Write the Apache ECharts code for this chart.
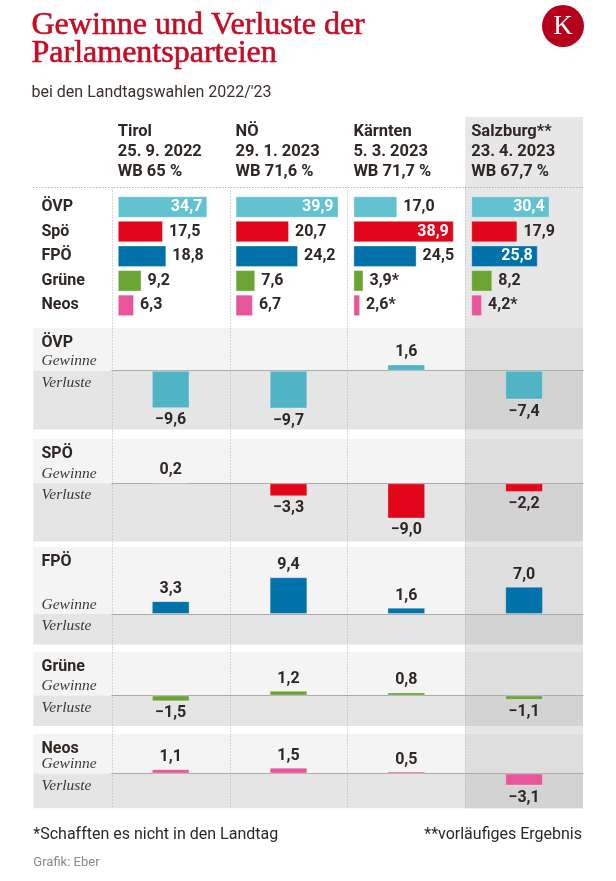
<!DOCTYPE html>
<html><head><meta charset="utf-8">
<script src="https://cdn.jsdelivr.net/npm/echarts@6/dist/echarts.min.js"></script>
<style>html,body{margin:0;padding:0;background:#fff}#c{width:616px;height:881px}</style>
</head><body><div id="c"></div>
<script>
// ---------- data ----------
const regions = ['Tirol', 'NÖ', 'Kärnten', 'Salzburg'];
const regionTitles = ['Tirol', 'NÖ', 'Kärnten', 'Salzburg**'];
const dates = ['25. 9. 2022', '29. 1. 2023', '5. 3. 2023', '23. 4. 2023'];
const turnout = ['WB 65 %', 'WB 71,6 %', 'WB 71,7 %', 'WB 67,7 %'];
const parties = ['ÖVP', 'Spö', 'FPÖ', 'Grüne', 'Neos'];
const panelParties = ['ÖVP', 'SPÖ', 'FPÖ', 'Grüne', 'Neos'];
// results (ÖVP, SPÖ, FPÖ, Grüne, Neos)
const resultTirol = [34.7, 17.5, 18.8, 9.2, 6.3];
const resultNOe = [39.9, 20.7, 24.2, 7.6, 6.7];
const resultKaernten = [17.0, 38.9, 24.5, 3.9, 2.6];
const resultSalzburg = [30.4, 17.9, 25.8, 8.2, 4.2];
const notInParliament = [[], [], ['Grüne', 'Neos'], ['Neos']];
// gains / losses (Tirol, NÖ, Kärnten, Salzburg)
const changeOeVP = [-9.6, -9.7, 1.6, -7.4];
const changeSPOe = [0.2, -3.3, -9.0, -2.2];
const changeFPOe = [3.3, 9.4, 1.6, 7.0];
const changeGruene = [-1.5, 1.2, 0.8, -1.1];
const changeNeos = [1.1, 1.5, 0.5, -3.1];

// ---------- style / layout ----------
const topColors = ['#63c2d0', '#e2061a', '#0071a9', '#6aa533', '#e9559a'];
const panelColors = ['#50b4c4', '#e2061a', '#0071a9', '#6aa533', '#e9559a'];
const DARK = '#2f2723';
const FONT = 'Roboto, "Noto Sans", sans-serif';
const SERIF = '"Liberation Serif", "DejaVu Serif", serif';
const COL0 = 111.8, COLW = 117.8, PANEL_L = 33.3, PANEL_R = COL0 + 4 * COLW;
const TOPG = { top: 194.7, height: 123, inset: 6, width: 103.2, max: 40 };
const PX_PER_POINT = 3.9;
const panelLayout = [
  { top: 328, base: 370.7, bottom: 429.5 },
  { top: 439, base: 483.3, bottom: 541.5 },
  { top: 546.7, base: 614, bottom: 644.5 },
  { top: 651.7, base: 695.5, bottom: 726 },
  { top: 734, base: 773.5, bottom: 808.3 }
];

const results = [resultTirol, resultNOe, resultKaernten, resultSalzburg];
const changes = [changeOeVP, changeSPOe, changeFPOe, changeGruene, changeNeos];
const fmt = v => (v < 0 ? '−' : '') + Math.abs(v).toFixed(1).replace('.', ',');

const grid = [], xAxis = [], yAxis = [], series = [];

regions.forEach((r, ri) => {
  grid.push({ left: COL0 + ri * COLW + TOPG.inset, top: TOPG.top, width: TOPG.width, height: TOPG.height });
  xAxis.push({ gridIndex: ri, type: 'value', min: 0, max: TOPG.max, show: false });
  yAxis.push({
    gridIndex: ri, type: 'category', data: parties, inverse: true, show: ri === 0,
    axisLine: { show: false }, axisTick: { show: false }, splitLine: { show: false },
    axisLabel: { show: ri === 0, align: 'left', margin: COL0 + TOPG.inset - 41.5, color: DARK, fontFamily: FONT, fontWeight: 'bold', fontSize: 16 }
  });
  series.push({
    type: 'bar', xAxisIndex: ri, yAxisIndex: ri, barWidth: 21.5, animation: false,
    data: results[ri].map((v, pi) => {
      const inside = v >= 25;
      return {
        value: v, star: notInParliament[ri].includes(parties[pi]),
        itemStyle: { color: topColors[pi], borderColor: 'rgba(255,255,255,0.35)', borderWidth: 1 },
        label: { position: inside ? 'insideRight' : 'right', distance: inside ? 5 : 6, color: inside ? '#fff' : DARK }
      };
    }),
    label: { show: true, fontFamily: FONT, fontWeight: 'bold', fontSize: 16,
      formatter: p => fmt(p.value) + (p.data.star ? '*' : '') }
  });
});

panelParties.forEach((p, pi) => {
  const L = panelLayout[pi], gi = 4 + pi;
  grid.push({ left: COL0, top: L.top, width: 4 * COLW, height: L.bottom - L.top });
  xAxis.push({ gridIndex: gi, type: 'category', data: regions, z: 1,
    axisLine: { show: true, onZero: true, lineStyle: { color: '#ababab', width: 1 } },
    axisTick: { show: false }, axisLabel: { show: false }, splitLine: { show: false } });
  yAxis.push({ gridIndex: gi, type: 'value', show: false,
    min: -(L.bottom - L.base) / PX_PER_POINT, max: (L.base - L.top) / PX_PER_POINT });
  series.push({
    type: 'bar', xAxisIndex: gi, yAxisIndex: gi, barWidth: 37.7, barMinHeight: 1, animation: false,
    itemStyle: { color: panelColors[pi], borderColor: 'rgba(255,255,255,0.3)', borderWidth: 1 },
    data: changes[pi].map(v => ({ value: v, label: { position: v >= 0 ? 'top' : 'bottom' } })),
    label: { show: true, distance: 4, formatter: q => fmt(q.value), color: DARK, fontFamily: FONT, fontWeight: 'bold', fontSize: 16 }
  });
});

const chart = echarts.init(document.getElementById('c'));
chart.setOption({ animation: false, backgroundColor: '#fff', grid, xAxis, yAxis, series });

// ---------- decoration ----------
const gfx = [];
const txt = (x, y, text, o) => gfx.push({ type: 'text', x, y, z: 5, silent: true,
  style: Object.assign({ text, fill: DARK, font: 'bold 16px ' + FONT, verticalAlign: 'middle', align: 'left' }, o || {}) });

gfx.push({ type: 'rect', z: 0, silent: true, shape: { x: COL0 + 3 * COLW, y: 117, width: COLW, height: panelLayout[4].bottom - 117 }, style: { fill: '#e7e7e7' } });

panelLayout.forEach((L, pi) => {
  const base = chart.convertToPixel({ yAxisIndex: 4 + pi }, 0);
  const top = chart.convertToPixel({ yAxisIndex: 4 + pi }, yAxis[4 + pi].max);
  const bottom = chart.convertToPixel({ yAxisIndex: 4 + pi }, yAxis[4 + pi].min);
  const sx = chart.convertToPixel({ xAxisIndex: 4 + pi }, regions[3]) - COLW / 2;
  gfx.push({ type: 'rect', z: 0, silent: true, shape: { x: PANEL_L, y: top, width: PANEL_R - PANEL_L, height: base - top }, style: { fill: '#f4f4f4' } });
  gfx.push({ type: 'rect', z: 0, silent: true, shape: { x: PANEL_L, y: base, width: PANEL_R - PANEL_L, height: bottom - base }, style: { fill: '#e5e5e5' } });
  gfx.push({ type: 'rect', z: 0, silent: true, shape: { x: sx, y: top, width: COLW, height: base - top }, style: { fill: '#dedede' } });
  gfx.push({ type: 'rect', z: 0, silent: true, shape: { x: sx, y: base, width: COLW, height: bottom - base }, style: { fill: '#d3d3d3' } });
  txt(41.5, top + 15, panelParties[pi]);
  txt(41.5, base - 9.5, 'Gewinne', { font: 'italic 15.5px ' + SERIF, fill: '#3d3835' });
  txt(41.5, base + 12, 'Verluste', { font: 'italic 15.5px ' + SERIF, fill: '#3d3835' });
});

// dotted lines
gfx.push({ type: 'line', z: 1, silent: true, shape: { x1: PANEL_L, y1: 187.5, x2: PANEL_R, y2: 187.5 }, style: { stroke: '#9a9a9a', lineWidth: 1, lineDash: [1, 2] } });
for (let i = 0; i < 4; i++) {
  const x = Math.round(COL0 + i * COLW) + 0.5;
  gfx.push({ type: 'line', z: 1, silent: true, shape: { x1: x, y1: 187.5, x2: x, y2: panelLayout[4].bottom }, style: { stroke: '#b3b3b3', lineWidth: 1, lineDash: [1, 2] } });
}

// headers
regions.forEach((r, ri) => {
  const x = COL0 + ri * COLW + TOPG.inset;
  txt(x, 132, regionTitles[ri], { font: 'bold 16.5px ' + FONT });
  txt(x, 152, dates[ri], { font: 'bold 16.5px ' + FONT });
  txt(x, 172, turnout[ri], { font: 'bold 16.5px ' + FONT });
});

// title
const titleStyle = { font: '32px ' + SERIF, fill: '#c40c24', stroke: '#c40c24', lineWidth: 0.6 };
txt(31.5, 26, 'Gewinne und Verluste der', titleStyle);
txt(31.5, 54, 'Parlamentsparteien', titleStyle);
txt(31.5, 93, "bei den Landtagswahlen 2022/'23", { font: '16px ' + FONT, fill: '#3a302c' });
// logo
gfx.push({ type: 'circle', z: 5, silent: true, shape: { cx: 563, cy: 26, r: 21 }, style: { fill: '#b5001c' } });
txt(563, 27, 'K', { font: '27px ' + SERIF, fill: '#fff', align: 'center' });

// footer
txt(33.3, 835, '*Schafften es nicht in den Landtag', { font: '16px ' + FONT });
txt(582, 835, '**vorläufiges Ergebnis', { font: '16px ' + FONT, align: 'right' });
txt(33.3, 863, 'Grafik: Eber', { font: '13px ' + FONT, fill: '#8a8a8a' });

chart.setOption({ graphic: { elements: gfx } });
</script></body></html>
